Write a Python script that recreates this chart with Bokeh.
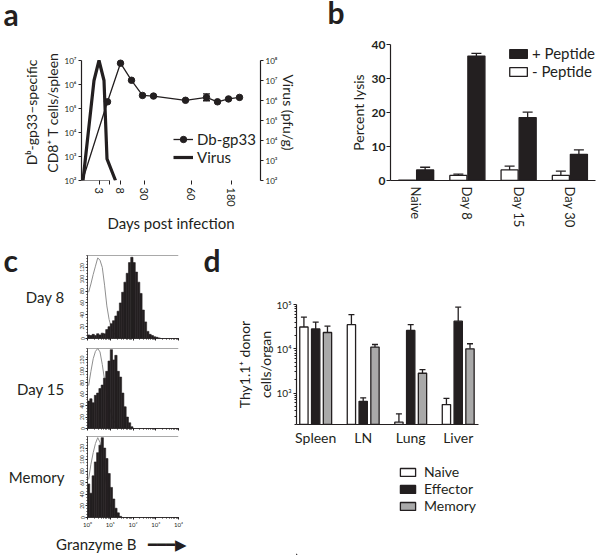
from bokeh.plotting import figure
from bokeh.layouts import row, column
from bokeh.models import (Range1d, LogScale, LogAxis, FixedTicker, Whisker, TeeHead, Span,
                          ColumnDataSource, Legend, LegendItem, CustomJSTickFormatter)
from bokeh.core.properties import value
from bokeh.embed import file_html
from bokeh.resources import INLINE

FONT = "Lato"
INK = "#231f20"
GREY = "#a9a9a9"
CTRL = "#8f8f8f"
BASELINE_FIX = 14   # text glyph baseline correction (px)

# ---------------- panel a data (x given in axis positions of the broken day axis)
day_tick_pos = [3.5, 5.6, 7.8, 12.6, 22.0, 29.9]
day_tick_labels = ["3", " ", "8", "30", "60", "180"]
gp33_pos = [0.2, 5.2, 7.8, 10.0, 12.2, 14.4, 20.8, 25.0, 27.2, 29.4, 31.6]
gp33_cells = [1.0e2, 1.9e5, 7.7e6, 1.5e6, 3.5e5, 3.3e5, 2.2e5, 2.9e5, 1.9e5, 2.5e5, 2.9e5]
gp33_err_pos = [25.0]
gp33_err_low = [2.1e5]
gp33_err_high = [4.1e5]
virus_pos = [0.3, 2.5, 3.5, 4.5, 5.1, 6.8]
virus_titre = [1.0e2, 1.0e7, 1.0e8, 1.0e7, 1.2e3, 1.0e2]
X_BREAK = 5.6

# ---------------- panel b data
timepoints = ["Naive", "Day 8", "Day 15", "Day 30"]
lysis_plus = [3.1, 36.6, 18.5, 7.7]
lysis_plus_err = [3.9, 37.4, 20.1, 9.0]
lysis_minus = [0.1, 1.5, 3.1, 1.5]
lysis_minus_err = [0.1, 1.9, 4.2, 2.75]

# ---------------- panel c data (counts per 0.1-decade bin, 10^0 .. 10^4)
d8_effector = [6, 5, 7, 5, 8, 6, 9, 8, 15, 20, 25, 30, 38, 46, 60, 78, 95, 110, 128, 137,
               128, 112, 95, 76, 48, 28, 12, 7, 5, 3, 2, 1, 0, 0, 0, 0, 0, 0, 0, 0]
d8_naive = [78, 92, 108, 122, 136, 132, 120, 90, 55, 32, 18, 10, 5, 3, 1, 0, 0, 0, 0, 0,
            0, 0, 0, 0, 0, 0, 0, 0, 0, 0, 0, 0, 0, 0, 0, 0, 0, 0, 0, 0]
d15_effector = [48, 52, 45, 58, 62, 70, 76, 88, 100, 118, 138, 120, 128, 100, 90, 62, 38, 20, 10, 3,
                0, 0, 0, 0, 0, 0, 0, 0, 0, 0, 0, 0, 0, 0, 0, 0, 0, 0, 0, 0]
d15_naive = [75, 100, 122, 135, 140, 134, 112, 85, 60, 40, 25, 14, 7, 3, 1, 0, 0, 0, 0, 0,
             0, 0, 0, 0, 0, 0, 0, 0, 0, 0, 0, 0, 0, 0, 0, 0, 0, 0, 0, 0]
mem_effector = [58, 42, 72, 96, 112, 125, 138, 120, 102, 76, 52, 32, 16, 8, 2, 0, 0, 0, 0, 0,
                0, 0, 0, 0, 0, 0, 0, 0, 0, 0, 0, 0, 0, 0, 0, 0, 0, 0, 0, 0]
mem_naive = [66, 92, 112, 128, 138, 130, 108, 80, 52, 30, 15, 7, 3, 1, 0, 0, 0, 0, 0, 0,
             0, 0, 0, 0, 0, 0, 0, 0, 0, 0, 0, 0, 0, 0, 0, 0, 0, 0, 0, 0]
hist_labels = ["Day 8", "Day 15", "Memory"]

# ---------------- panel d data
organs = ["Spleen", "LN", "Lung", "Liver"]
naive_cells = [3.1e4, 3.5e4, 220, 550]
naive_err = [5.2e4, 5.9e4, 340, 760]
effector_cells = [2.8e4, 650, 2.6e4, 4.2e4]
effector_err = [4.0e4, 780, 3.5e4, 8.7e4]
memory_cells = [2.33e4, 1.09e4, 2.8e3, 1.0e4]
memory_err = [3.24e4, 1.25e4, 3.4e3, 1.3e4]

SUP_JS = """
const sup = {"0":"\u2070","1":"\u00b9","2":"\u00b2","3":"\u00b3","4":"\u2074","5":"\u2075","6":"\u2076","7":"\u2077","8":"\u2078","9":"\u2079","-":"\u207b"};
const e = Math.round(Math.log10(tick));
return "10" + String(e).split("").map(c => sup[c]).join("");
"""

COMMON = dict(output_backend="svg", toolbar_location=None, title_location=None)


def sup_fmt():
    return CustomJSTickFormatter(code=SUP_JS)


def style(p):
    p.xgrid.visible = False
    p.ygrid.visible = False
    p.outline_line_color = None
    for ax in p.axis:
        ax.axis_line_color = INK
        ax.axis_line_width = 1.2
        ax.major_tick_line_color = INK
        ax.minor_tick_line_color = INK
        ax.major_label_text_font = FONT
        ax.axis_label_text_font = FONT
        ax.axis_label_text_font_style = "normal"
        ax.major_label_text_color = INK
        ax.axis_label_text_color = INK


def blank_fig(w, h, left=0, right=0, top=0, bottom=0):
    fw, fh = w - left - right, h - top - bottom
    f = figure(width=w, height=h, x_range=Range1d(0, fw), y_range=Range1d(0, fh),
               x_axis_location=None, y_axis_location=None, min_border_left=left,
               min_border_right=right, min_border_top=top, min_border_bottom=bottom, **COMMON)
    f.xgrid.visible = False
    f.ygrid.visible = False
    f.outline_line_color = None
    return f


def letter_fig(w, h, xs, ys, letters, top=0, bottom=0):
    f = blank_fig(w, h, top=top, bottom=bottom)
    f.text(x=xs, y=[y + BASELINE_FIX for y in ys], text=letters, text_font=value(FONT),
           text_font_style="bold", text_font_size="30px", text_color=INK,
           text_baseline="alphabetic")
    return f


def tee(size=8):
    return TeeHead(size=size, line_color=INK, line_width=1.3)


# ======================= header with panel letters a, b
header_ab = letter_fig(600, 32, [3, 327], [5, 7], ["a", "b"])

# ======================= panel a  (frame 44..180; axes bounded to their decades)
pa = figure(width=300, height=204, x_range=Range1d(0, 35.8),
            y_range=Range1d(1e2, 10 ** (7 + 16 / 24)), y_axis_type="log",
            min_border_left=81, min_border_right=40, min_border_top=12, min_border_bottom=56,
            **COMMON)
pa.extra_y_ranges = {"virus": Range1d(1e2, 10 ** (8 + 16 / 20))}
pa.extra_y_scales = {"virus": LogScale()}
virus_axis = LogAxis(y_range_name="virus", axis_label="Virus (pfu/g)")
pa.add_layout(virus_axis, "right")
style(pa)

left_a = pa.left[0]
left_a.bounds = (1e2, 1e7)
left_a.ticker = FixedTicker(ticks=[1e2, 1e3, 1e4, 1e5, 1e6, 1e7])
left_a.formatter = sup_fmt()
left_a.major_label_text_font_size = "8px"
left_a.major_label_standoff = 2
left_a.major_tick_out = 3
left_a.major_tick_in = 0
left_a.axis_label = "D\u1d47-gp33\u2013specific\nCD8\u207a T cells/spleen"
left_a.axis_label_text_font_size = "14px"
left_a.axis_label_standoff = 1

virus_axis.bounds = (1e2, 1e8)
virus_axis.ticker = FixedTicker(ticks=[1e2, 1e3, 1e4, 1e5, 1e6, 1e7, 1e8])
virus_axis.formatter = sup_fmt()
virus_axis.major_label_text_font_size = "8px"
virus_axis.major_label_standoff = 2
virus_axis.major_tick_out = 3
virus_axis.major_tick_in = 0
virus_axis.axis_label_text_font_size = "14px"
virus_axis.axis_label_standoff = 0

xa = pa.below[0]
xa.ticker = FixedTicker(ticks=day_tick_pos)
xa.major_label_overrides = dict(zip(day_tick_pos, day_tick_labels))
xa.major_label_orientation = "vertical"
xa.major_label_text_font_size = "11px"
xa.major_label_standoff = 3
xa.major_tick_out = 4
xa.major_tick_in = 0
xa.axis_line_color = None
xa.axis_label = "Days post infection"
xa.axis_label_text_font_size = "15px"
xa.axis_label_standoff = 4
pa.segment(x0=[0], y0=[1e2], x1=[X_BREAK], y1=[1e2], line_color=INK, line_width=1.2)

virus_r = pa.line(virus_pos, virus_titre, y_range_name="virus", line_color=INK, line_width=3.2)
gp_line = pa.line(gp33_pos, gp33_cells, line_color=INK, line_width=1.3)
gp_pts = pa.scatter(gp33_pos[1:], gp33_cells[1:], marker="circle", size=6.5,
                    fill_color=INK, line_color=INK)
pa.add_layout(Whisker(source=ColumnDataSource(dict(b=gp33_err_pos, lo=gp33_err_low, hi=gp33_err_high)),
                      base="b", lower="lo", upper="hi", line_color=INK, line_width=1.3,
                      upper_head=tee(7), lower_head=tee(7)))
leg_a = Legend(items=[LegendItem(label="Db-gp33", renderers=[gp_line, gp_pts]),
                      LegendItem(label="Virus", renderers=[virus_r])],
               location=(92, 14), padding=0, margin=0, spacing=0, glyph_width=20, glyph_height=16,
               label_height=17, label_standoff=4, label_text_font=FONT, label_text_font_size="15px",
               label_text_color=INK, background_fill_alpha=0, border_line_color=None)
pa.add_layout(leg_a)

# ======================= panel b
pb = figure(width=300, height=204, x_range=Range1d(-0.5, 3.5), y_range=Range1d(0, 40),
            min_border_left=90, min_border_right=5, min_border_top=12, min_border_bottom=56,
            **COMMON)
style(pb)
B_OFF, B_W = 0.176, 0.333
xb = list(range(len(timepoints)))
minus_r = pb.vbar(x=[i - B_OFF for i in xb], top=lysis_minus, bottom=0, width=B_W,
                  fill_color="white", line_color=INK, line_width=1.3)
plus_r = pb.vbar(x=[i + B_OFF for i in xb], top=lysis_plus, bottom=0, width=B_W,
                 fill_color=INK, line_color=INK, line_width=1.3)
wb_x, wb_lo, wb_hi = [], [], []
for i in xb:
    if lysis_minus_err[i] > lysis_minus[i]:
        wb_x.append(i - B_OFF); wb_lo.append(lysis_minus[i]); wb_hi.append(lysis_minus_err[i])
    wb_x.append(i + B_OFF); wb_lo.append(lysis_plus[i]); wb_hi.append(lysis_plus_err[i])
pb.add_layout(Whisker(source=ColumnDataSource(dict(b=wb_x, lo=wb_lo, hi=wb_hi)), base="b",
                      lower="lo", upper="hi", line_color=INK, line_width=1.3,
                      upper_head=tee(10), lower_head=None))
yb = pb.yaxis[0]
yb.ticker = FixedTicker(ticks=[0, 10, 20, 30, 40])
yb.major_label_text_font_size = "12px"
yb.major_label_text_font_style = "bold"
yb.major_tick_out = 4
yb.major_tick_in = 0
yb.major_label_standoff = 1
yb.minor_tick_line_color = None
yb.axis_label = "Percent lysis"
yb.axis_label_text_font_size = "14px"
yb.axis_label_standoff = 2
xbax = pb.xaxis[0]
xbax.ticker = FixedTicker(ticks=xb)
xbax.major_label_overrides = {i: t for i, t in zip(xb, timepoints)}
xbax.major_label_orientation = "vertical"
xbax.major_label_text_font_size = "13px"
xbax.major_tick_line_color = None
xbax.major_tick_out = 0
xbax.major_label_standoff = 6
leg_b = Legend(items=[LegendItem(label="+ Peptide", renderers=[plus_r]),
                      LegendItem(label="- Peptide", renderers=[minus_r])],
               location="top_right", padding=0, margin=0, spacing=0, glyph_width=22, glyph_height=11,
               label_height=15, label_standoff=3, label_text_font=FONT, label_text_font_size="15px",
               label_text_color=INK, background_fill_alpha=0, border_line_color=None)
pb.add_layout(leg_b)

# ======================= panel c
EDGES = [10 ** (k / 10) for k in range(41)]
CENTERS = [10 ** ((k + 0.5) / 10) for k in range(40)]
hist_sets = [(d8_effector, d8_naive), (d15_effector, d15_naive), (mem_effector, mem_naive)]
c_geom = [(180, 107, 67, 19, 5), (200, 89, 87, 5, 4), (200, 123, 87, 4, 37)]
c_figs = []
for idx, ((eff, ctl), (w, h, bl, bt, bb)) in enumerate(zip(hist_sets, c_geom)):
    pc = figure(width=w, height=h, x_range=Range1d(1, 1e4), y_range=Range1d(0, 140),
                x_axis_type="log", min_border_left=bl, min_border_right=22, min_border_top=bt,
                min_border_bottom=bb, **COMMON)
    style(pc)
    pc.add_layout(Span(location=140, dimension="width", line_color="#555555", line_width=1.2))
    pc.line(CENTERS, ctl, line_color=CTRL, line_width=1)
    pc.quad(left=EDGES[:-1], right=EDGES[1:], bottom=0, top=eff, fill_color=INK,
            line_color=INK, line_width=0.6)
    yc = pc.yaxis[0]
    yc.ticker = FixedTicker(ticks=[0, 20, 40, 60, 80, 100, 120],
                            minor_ticks=list(range(0, 141, 5)))
    yc.major_label_text_font_size = "5px"
    yc.major_label_orientation = "vertical"
    yc.major_label_standoff = 1
    yc.major_tick_out = 2
    yc.major_tick_in = 0
    yc.minor_tick_out = 1
    yc.minor_tick_in = 0
    yc.axis_line_width = 0.8
    yc.axis_label = hist_labels[idx]
    yc.axis_label_orientation = "horizontal"
    yc.axis_label_text_font_size = "15px"
    yc.axis_label_standoff = 13
    xc = pc.below[0]
    xc.formatter = sup_fmt()
    xc.major_tick_out = 2
    xc.major_tick_in = 0
    xc.minor_tick_out = 1
    xc.minor_tick_in = 0
    xc.axis_line_width = 0.8
    xc.major_label_standoff = 1
    if idx == 2:
        xc.major_label_text_font_size = "6px"
        xc.axis_label = ("Granzyme B\u00a0\u00a0\u00a0\u2501\u2501\u2501\u25b6"
                         + "\u00a0" * 6)
        xc.axis_label_text_font_size = "15px"
        xc.axis_label_standoff = 4
    else:
        xc.major_label_text_font_size = "1px"
        xc.major_label_text_alpha = 0
    c_figs.append(pc)
# letter "c" shares the first histogram's top/bottom borders (frame 83 px tall)
letter_c = letter_fig(20, 107, [3], [65], ["c"], top=19, bottom=5)

# ======================= panel d
letter_d = letter_fig(22, 319, [3], [282], ["d"])
pd_ = figure(width=378, height=219, x_range=Range1d(-0.404, 3.427), y_range=Range1d(195, 1e5),
             y_axis_type="log", min_border_left=74, min_border_right=122, min_border_top=68,
             min_border_bottom=31, **COMMON)
style(pd_)
D_OFF, D_W = 0.248, 0.175
xd = list(range(len(organs)))
series_d = [(naive_cells, naive_err, "white", -D_OFF, "Naive"),
            (effector_cells, effector_err, INK, 0.0, "Effector"),
            (memory_cells, memory_err, GREY, D_OFF, "Memory")]
legend_fig = blank_fig(378, 100, left=74, right=122)
items_d = []
for vals, errs, col, off, name in series_d:
    xs = [i + off for i in xd]
    pd_.vbar(x=xs, top=vals, bottom=1, width=D_W, fill_color=col, line_color=INK, line_width=1.3)
    pd_.add_layout(Whisker(source=ColumnDataSource(dict(b=xs, lo=vals, hi=errs)), base="b",
                           lower="lo", upper="hi", line_color=INK, line_width=1.3,
                           upper_head=tee(6), lower_head=None))
    # legend swatch proxy: one datum placed outside the legend panel's visible range
    proxy = legend_fig.vbar(x=[-500], top=[1], bottom=0, width=1, fill_color=col,
                            line_color=INK, line_width=1.3)
    items_d.append(LegendItem(label=name, renderers=[proxy]))
yd = pd_.yaxis[0]
yd.ticker = FixedTicker(ticks=[1e3, 1e4, 1e5],
                        minor_ticks=[m * 10 ** k for k in (2, 3, 4) for m in range(2, 10)])
yd.formatter = sup_fmt()
yd.major_label_text_font_size = "10px"
yd.major_label_standoff = 2
yd.major_tick_out = 3
yd.major_tick_in = 0
yd.minor_tick_out = 2
yd.minor_tick_in = 0
yd.axis_label = "Thy1.1\u207a donor\ncells/organ"
yd.axis_label_text_font_size = "14px"
yd.axis_label_standoff = 0
xdax = pd_.xaxis[0]
xdax.ticker = FixedTicker(ticks=xd)
xdax.major_label_overrides = {i: o for i, o in zip(xd, organs)}
xdax.major_label_text_font_size = "14px"
xdax.major_tick_line_color = None
xdax.major_tick_out = 0
xdax.major_label_standoff = 4
leg_d = Legend(items=items_d, location=(102, 41), padding=0, margin=0, spacing=0,
               glyph_width=19, glyph_height=10, label_height=17, label_standoff=7,
               label_text_font=FONT, label_text_font_size="14px", label_text_color=INK,
               background_fill_alpha=0, border_line_color=None)
legend_fig.add_layout(leg_d)

layout = column(header_ab, row(pa, pb),
                row(column(row(letter_c, c_figs[0]), c_figs[1], c_figs[2]),
                    row(letter_d, column(pd_, legend_fig))))
open("out.html", "w").write(file_html(layout, INLINE, title="CD8 T cell responses"))
